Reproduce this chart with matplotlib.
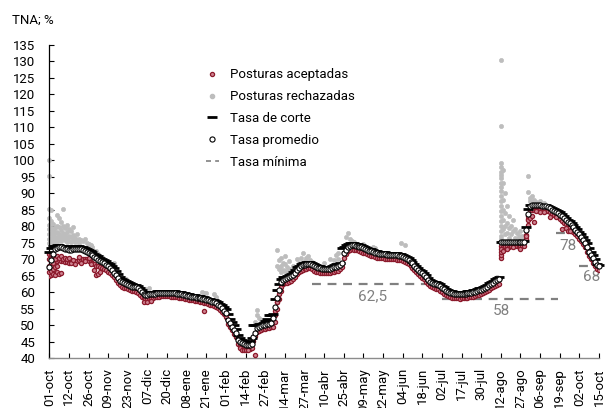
import matplotlib
matplotlib.use("Agg")
import matplotlib.pyplot as plt
from matplotlib.lines import Line2D
import numpy as np

plt.rcParams['font.family'] = ['Roboto', 'DejaVu Sans']

# ---------------- data ----------------
tick_labels = ["01-oct", "12-oct", "26-oct", "09-nov", "23-nov", "07-dic", "20-dic",
               "08-ene", "21-ene", "01-feb", "14-feb", "27-feb", "14-mar", "27-mar",
               "10-abr", "25-abr", "09-may", "22-may", "04-jun", "18-jun", "02-jul",
               "17-jul", "30-jul", "12-ago", "27-ago", "06-sep", "19-sep", "02-oct", "15-oct"]

tasa_promedio = [
    67.5, 69.8, 71.6, 73.1, 73.5, 73.8, 73.6, 73.4, 73.2, 73.0,
    72.8, 72.9, 73.0, 73.1, 73.2, 73.1, 73.1, 72.8, 72.6, 72.3,
    72.0, 71.6, 71.2, 70.8, 70.3, 69.8, 69.5, 69.1, 68.8, 68.3,
    67.8, 67.3, 66.6, 65.9, 65.2, 64.3, 63.4, 63.0, 62.7, 62.5,
    62.2, 61.9, 61.7, 61.5, 61.5, 61.2, 60.6, 60.0, 59.5, 59.3,
    59.3, 59.4, 59.5, 59.5, 59.6, 59.7, 59.8, 59.9, 59.9, 59.9,
    59.9, 59.9, 59.8, 59.8, 59.7, 59.6, 59.5, 59.4, 59.3, 59.2,
    59.0, 58.9, 58.7, 58.6, 58.5, 58.4, 58.3, 58.2, 58.1, 57.9,
    57.7, 57.5, 57.3, 57.1, 56.9, 56.7, 56.2, 55.7, 55.2, 54.4,
    53.6, 51.6, 50.6, 49.6, 48.6, 47.6, 45.5, 45.0, 44.5, 44.2,
    44.0, 44.0, 44.1, 44.3, 46.5, 47.8, 49.1, 49.5, 49.8, 50.0,
    50.1, 50.3, 50.5, 50.6, 52.1, 55.6, 58.2, 60.7, 63.0, 63.7,
    64.0, 64.2, 64.5, 64.8, 65.2, 65.8, 66.8, 67.3, 67.8, 68.1,
    68.3, 68.4, 68.5, 68.5, 68.2, 67.8, 67.5, 67.3, 67.2, 67.1,
    67.0, 67.0, 67.0, 67.0, 67.3, 67.5, 67.7, 67.8, 68.3, 68.8,
    71.8, 72.8, 73.8, 74.1, 74.3, 74.2, 74.1, 74.0, 73.8, 73.6,
    73.3, 73.1, 72.8, 72.6, 72.4, 72.2, 72.0, 71.8, 71.7, 71.6,
    71.6, 71.5, 71.4, 71.4, 71.3, 71.3, 71.3, 71.2, 71.1, 71.0,
    70.8, 70.5, 70.2, 69.8, 69.3, 68.7, 68.0, 67.3, 66.8, 66.2,
    65.7, 65.2, 64.5, 63.8, 63.2, 62.9, 62.6, 62.4, 62.2, 61.8,
    61.4, 60.9, 60.5, 60.2, 59.9, 59.7, 59.6, 59.5, 59.5, 59.4,
    59.5, 59.5, 59.6, 59.7, 59.8, 59.9, 60.0, 60.2, 60.4, 60.6,
    60.7, 61.0, 61.4, 61.7, 62.1, 62.5, 62.9, 63.3, 63.6, 63.9,
    75.2, 75.1, 75.2, 75.2, 75.1, 75.2, 75.2, 75.2, 75.3, 75.2,
    75.2, 75.3, 75.3, 78.7, 83.6, 86.2, 86.3, 86.3, 86.3, 86.3,
    86.3, 86.2, 86.2, 86.0, 85.8, 85.5, 85.0, 84.7, 84.3, 84.0,
    83.5, 83.0, 82.4, 81.9, 81.4, 80.9, 80.3, 79.6, 78.9, 78.2,
    77.5, 76.8, 75.9, 74.9, 73.6, 72.3, 71.3, 70.3, 69.3, 68.3, 68.0]

tasa_corte = [
    72.2, 73.5, 74.0, 74.1, 74.2, 74.2, 74.1, 74.0, 73.9, 73.8,
    73.7, 73.8, 73.9, 74.0, 74.0, 73.9, 73.8, 73.6, 73.4, 73.2,
    72.9, 72.5, 72.1, 71.7, 71.3, 70.9, 70.5, 70.1, 69.8, 69.4,
    69.0, 68.5, 67.9, 67.2, 66.5, 65.6, 64.6, 64.0, 63.6, 63.3,
    63.0, 62.7, 62.4, 62.2, 62.1, 61.9, 61.4, 60.8, 60.2, 59.9,
    59.9, 60.0, 60.1, 60.1, 60.2, 60.3, 60.4, 60.5, 60.5, 60.5,
    60.5, 60.5, 60.4, 60.4, 60.3, 60.2, 60.1, 60.0, 59.9, 59.8,
    59.6, 59.5, 59.3, 59.2, 59.1, 59.0, 58.9, 58.8, 58.7, 58.5,
    58.3, 58.1, 57.9, 57.7, 57.5, 57.3, 57.0, 56.5, 56.0, 55.4,
    54.8, 53.3, 52.0, 51.0, 50.0, 49.0, 47.2, 46.0, 45.4, 45.1,
    44.9, 44.8, 45.2, 46.0, 50.0, 50.1, 50.2, 50.3, 50.5, 50.8,
    51.2, 52.0, 53.0, 53.1, 53.3, 58.0, 60.7, 62.5, 64.0, 64.5,
    64.7, 64.9, 65.2, 65.5, 66.0, 66.8, 67.6, 68.0, 68.5, 68.8,
    69.0, 69.1, 69.2, 69.1, 68.8, 68.4, 68.1, 67.9, 67.8, 67.7,
    67.6, 67.6, 67.6, 67.7, 68.0, 68.2, 68.4, 68.6, 69.0, 73.4,
    73.6, 74.2, 74.6, 74.8, 74.9, 74.8, 74.7, 74.6, 74.4, 74.2,
    73.9, 73.7, 73.4, 73.2, 73.0, 72.8, 72.6, 72.4, 72.3, 72.2,
    72.2, 72.1, 72.0, 72.0, 71.9, 71.9, 71.9, 71.8, 71.7, 71.6,
    71.4, 71.1, 70.8, 70.4, 69.9, 69.3, 68.6, 67.9, 67.4, 66.8,
    66.3, 65.8, 65.1, 64.4, 63.8, 63.5, 63.2, 63.0, 62.8, 62.4,
    62.0, 61.5, 61.1, 60.8, 60.5, 60.3, 60.2, 60.1, 60.1, 60.0,
    60.1, 60.1, 60.2, 60.3, 60.4, 60.5, 60.6, 60.8, 61.0, 61.2,
    61.3, 61.6, 62.0, 62.3, 62.7, 63.1, 63.5, 63.9, 64.2, 64.5,
    75.3, 75.3, 75.3, 75.3, 75.3, 75.3, 75.3, 75.4, 75.4, 75.4,
    75.4, 75.5, 75.5, 79.9, 85.2, 86.4, 86.5, 86.5, 86.5, 86.5,
    86.5, 86.4, 86.4, 86.3, 86.1, 85.9, 85.5, 85.2, 84.9, 84.6,
    84.2, 83.7, 83.2, 82.6, 82.0, 81.5, 80.9, 80.3, 79.6, 79.0,
    78.2, 77.6, 76.8, 75.9, 74.8, 73.3, 72.2, 71.2, 70.0, 68.6, 68.1]

aceptadas_min = [
    65.0, 65.3, 65.6, 69.0, 69.5, 69.8, 69.6, 69.4, 69.3, 69.2,
    69.0, 69.2, 69.3, 69.5, 69.6, 69.8, 70.0, 70.2, 70.2, 70.0,
    69.6, 69.2, 68.9, 68.5, 68.0, 67.8, 67.6, 67.3, 67.0, 66.6,
    66.2, 65.8, 65.2, 64.5, 63.8, 62.9, 62.1, 61.7, 61.4, 61.2,
    60.9, 60.6, 60.4, 60.3, 60.2, 59.9, 59.3, 58.7, 58.2, 58.0,
    58.1, 58.2, 58.3, 58.4, 58.5, 58.6, 58.7, 58.8, 58.8, 58.8,
    58.8, 58.8, 58.7, 58.7, 58.6, 58.5, 58.4, 58.3, 58.2, 58.1,
    57.9, 57.8, 57.6, 57.5, 57.4, 57.3, 57.2, 57.1, 57.0, 56.8,
    56.6, 56.4, 56.2, 56.0, 55.8, 55.6, 55.1, 54.6, 54.1, 53.3,
    52.5, 50.5, 49.5, 48.5, 47.5, 46.5, 44.4, 43.8, 43.3, 43.0,
    42.8, 42.8, 42.9, 43.1, 45.3, 46.6, 47.9, 48.3, 48.6, 48.8,
    48.9, 49.1, 49.3, 49.4, 50.9, 54.3, 56.9, 59.4, 61.7, 62.4,
    62.7, 62.9, 63.2, 63.5, 63.9, 64.5, 65.5, 66.0, 66.5, 66.8,
    67.0, 67.1, 67.2, 67.2, 66.9, 66.5, 66.2, 66.0, 65.9, 65.8,
    65.7, 65.7, 65.7, 65.7, 66.0, 66.2, 66.4, 66.5, 67.0, 67.5,
    70.5, 71.5, 72.5, 72.8, 73.0, 72.9, 72.8, 72.7, 72.5, 72.3,
    72.0, 71.8, 71.5, 71.3, 71.1, 70.9, 70.7, 70.5, 70.4, 70.3,
    70.3, 70.2, 70.1, 70.1, 70.0, 70.0, 70.0, 69.9, 69.8, 69.7,
    69.5, 69.2, 68.9, 68.5, 68.0, 67.4, 66.7, 66.0, 65.5, 64.9,
    64.4, 63.9, 63.2, 62.5, 61.9, 61.6, 61.3, 61.1, 60.9, 60.5,
    60.1, 59.6, 59.2, 58.9, 58.6, 58.4, 58.3, 58.2, 58.2, 58.1,
    58.2, 58.2, 58.3, 58.4, 58.5, 58.6, 58.7, 58.9, 59.1, 59.3,
    59.4, 59.7, 60.1, 60.4, 60.8, 61.2, 61.6, 62.0, 62.3, 62.6,
    73.9, 73.8, 73.9, 73.9, 73.8, 73.9, 73.9, 73.9, 74.0, 73.9,
    73.9, 74.0, 74.0, 77.4, 82.3, 84.9, 85.0, 85.0, 85.0, 85.0,
    85.0, 84.9, 84.9, 84.7, 84.5, 84.2, 83.7, 83.4, 83.0, 82.7,
    82.2, 81.7, 81.1, 80.6, 80.1, 79.6, 79.0, 78.3, 77.6, 76.9,
    76.2, 75.5, 74.6, 73.6, 72.3, 71.0, 70.0, 69.0, 68.0, 67.0, 66.7]

# additional accepted bids (day index, rate)
acep_extra_dia = [0, 0, 0, 0, 1, 1, 1, 1, 2, 2, 2, 2, 3, 3, 3, 4, 4, 4, 5, 5, 6, 6, 7, 8,
                  9, 10, 11, 12, 13, 15, 16, 18, 20, 21, 23, 24, 25, 26, 48, 50, 52, 79,
                  97, 98, 99, 100, 101, 105, 114, 115, 115, 116, 116, 117, 118,
                  230, 230, 230, 230, 231, 233, 236, 240, 243, 243, 244, 244, 244, 245,
                  246, 247, 248, 250, 252, 255, 258, 261, 263, 264, 265]
acep_extra_tasa = [66.0, 68.0, 70.0, 71.5, 66.5, 68.0, 70.5, 71.5, 65.5, 67.0, 69.0, 71.0,
                   65.2, 67.5, 70.0, 66.0, 68.0, 71.0, 65.5, 70.5, 65.8, 71.0, 70.0, 70.5,
                   70.2, 70.3, 68.8, 69.7, 68.5, 70.6, 69.0, 69.4, 70.5, 68.5, 66.6, 65.2,
                   65.4, 66.0, 57.1, 57.0, 57.3, 54.3,
                   43.0, 42.5, 42.6, 42.5, 42.4, 41.0, 49.5, 51.0, 53.0, 55.0, 57.0, 58.0, 60.5,
                   70.3, 71.3, 72.3, 73.0, 72.5, 73.2, 73.6, 73.0, 76.0, 77.0, 80.5, 81.8,
                   83.0, 82.5, 83.2, 81.4, 84.6, 84.4, 84.3, 82.9, 82.7, 79.1, 79.5, 78.5, 78.4]

# rejected bids (day index, rate)
rech_dia = [0, 0, 0, 0, 0, 0, 0, 0, 0, 1, 1, 1, 1, 1, 1, 2, 2, 2, 2, 3, 3, 3, 3,
            4, 4, 4, 4, 4, 5, 5, 5, 5, 6, 6, 6, 6, 7, 7, 7, 7, 8, 8, 8, 9, 9, 9, 9,
            10, 10, 10, 11, 11, 11, 12, 12, 12, 13, 13, 14, 14, 15, 15, 16, 17, 18,
            19, 20, 21, 22, 24, 25, 27, 33, 38, 39, 44, 47, 49, 51, 78, 79, 80, 84, 85,
            105, 106, 106, 107, 108,
            116, 116, 117, 117, 118, 118, 118, 119, 119, 120, 120, 120, 121, 121, 122,
            122, 123, 124, 124, 126, 127, 128, 129, 130, 131, 132, 133, 134,
            140, 143, 145, 146, 147, 147, 151, 152, 153, 154, 155, 160, 165, 166, 179, 181,
            228,
            230, 230, 230, 230, 230, 230, 230, 230, 230, 230, 230, 230, 230, 230, 230,
            230, 230, 230, 230, 230,
            231, 231, 231, 231, 231, 231, 232, 232, 232, 232, 233, 233, 233, 234, 234,
            234, 235, 235, 236, 236, 237, 237, 238, 238, 239, 240, 240, 241, 242,
            244, 244, 245, 245, 246, 246, 247, 248, 249, 250, 252]
rech_tasa = [100.1, 95.2, 85.3, 82.5, 80.5, 79.0, 77.5, 76.0, 75.0, 85.0, 81.5, 79.5,
             78.0, 76.5, 75.2, 80.8, 78.6, 77.2, 75.6, 79.3, 77.8, 76.3, 75.1,
             83.3, 80.0, 78.2, 76.7, 75.3, 82.4, 79.6, 77.5, 76.0, 81.3, 78.9, 77.0, 75.5,
             85.1, 80.2, 78.0, 76.3, 79.5, 77.4, 75.8, 80.3, 78.2, 76.4, 75.2,
             79.0, 77.0, 75.6, 78.5, 76.6, 75.3, 79.8, 77.2, 75.7, 76.5, 75.2, 77.5, 75.9,
             76.2, 75.0, 75.8, 75.5, 76.0, 75.0, 74.6, 74.2, 73.6, 72.5, 71.5, 70.8, 69.0,
             64.3, 64.0, 62.2, 61.3, 61.0, 61.2, 60.0, 59.8, 59.9, 59.6, 58.6,
             51.0, 54.6, 53.0, 52.2, 51.5,
             72.8, 68.0, 69.8, 67.0, 70.5, 68.0, 66.0, 69.0, 66.8, 71.0, 68.5, 66.5, 67.5,
             65.8, 69.5, 67.0, 66.2, 68.0, 66.6, 70.0, 69.0, 70.5, 71.8, 69.5, 70.3, 71.0,
             69.8, 69.2,
             69.0, 70.2, 69.8, 71.3, 71.8, 70.0, 76.8, 78.0, 76.2, 75.5, 75.2, 74.5, 73.8,
             73.3, 74.8, 74.3,
             64.5,
             130.2, 110.4, 99.0, 98.0, 96.5, 95.5, 94.5, 93.0, 92.0, 90.5, 89.0, 87.5,
             86.0, 84.5, 83.0, 81.5, 80.0, 78.5, 77.0, 76.0,
             97.0, 93.0, 88.0, 85.0, 82.0, 79.0, 90.0, 84.0, 80.0, 77.5, 86.0, 81.0, 78.0,
             83.0, 79.5, 76.5, 80.0, 77.5, 82.0, 78.5, 79.0, 76.5, 78.0, 76.0, 77.0, 78.5,
             76.0, 77.0, 76.5,
             95.2, 90.2, 88.5, 87.5, 89.0, 87.2, 88.0, 87.3, 87.0, 87.5, 87.0]

# minimum rate segments: (start day, end day, rate, label)
minima_inicio = [134, 200, 258, 270]
minima_fin = [194, 259, 270, 281]
minima_tasa = [62.5, 58.0, 78.0, 68.0]
minima_etiqueta = ["62,5", "58", "78", "68"]
etiqueta_dia = [164.9, 230.3, 264.1, 276.1]
etiqueta_tasa = [58.8, 54.4, 73.9, 64.5]

# ---------------- plot ----------------
W, H = 605, 408
fig = plt.figure(figsize=(W / 100, H / 100), dpi=100)
ax = fig.add_axes([49.3 / W, 1 - 358.3 / H, (599 - 49.3) / W, (358.3 - 44.5) / H])

dias = np.arange(len(tasa_promedio))
red = '#8C1A2C'
red_face = '#CF8391'
gray_pts = '#BDBDBD'
dash_col = '#808080'

for s, e, t in zip(minima_inicio, minima_fin, minima_tasa):
    ax.plot([s, e], [t, t], color=dash_col, lw=1.6, ls=(0, (4, 3)), zorder=1)
for lab, xd, yd in zip(minima_etiqueta, etiqueta_dia, etiqueta_tasa):
    ax.text(xd, yd, lab, color=dash_col, fontsize=11, ha='center', va='center', zorder=1)

ax.plot(rech_dia, rech_tasa, ls='none', marker='o', ms=3.0, mfc=gray_pts, mec=gray_pts,
        mew=0.5, zorder=2, clip_on=False)
ax.plot(dias, aceptadas_min, ls='none', marker='o', ms=3.0, mfc=red_face, mec=red,
        mew=0.9, zorder=3)
ax.plot(acep_extra_dia, acep_extra_tasa, ls='none', marker='o', ms=3.0, mfc=red_face,
        mec=red, mew=0.9, zorder=3, clip_on=False)
ax.plot(dias, tasa_corte, ls='none', marker='_', ms=7.5, mew=2.0, color='black', zorder=4,
        clip_on=False)
ax.plot(dias, tasa_promedio, ls='none', marker='o', ms=3.7, mfc='white', mec='black',
        mew=0.8, zorder=5, clip_on=False)

ax.set_xlim(0, 280)
ax.set_ylim(40, 135)
ax.set_yticks(np.arange(40, 136, 5))
ax.set_xticks(np.arange(0, 281, 10))
ax.set_xticklabels(tick_labels, rotation=90, fontsize=9.5)
ax.tick_params(axis='y', direction='in', length=3.5, width=0.8, pad=10, labelsize=9.5,
               colors='black')
ax.tick_params(axis='x', direction='in', length=3.5, width=0.8, pad=7, labelsize=9.5,
               colors='black')
for side in ['top', 'right']:
    ax.spines[side].set_visible(False)
ax.spines['left'].set_color('black')
ax.spines['left'].set_linewidth(0.9)
ax.spines['bottom'].set_color('#8C8C8C')
ax.spines['bottom'].set_linewidth(1.0)

fig.text(12 / W, 1 - 20 / H, "TNA; %", fontsize=9.5, ha='left', va='center')

handles = [
    Line2D([], [], ls='none', marker='o', ms=3.0, mfc=red_face, mec=red, mew=0.9),
    Line2D([], [], ls='none', marker='o', ms=3.0, mfc=gray_pts, mec=gray_pts),
    Line2D([], [], ls='none', marker='_', ms=7.5, mew=2.0, color='black'),
    Line2D([], [], ls='none', marker='o', ms=3.7, mfc='white', mec='black', mew=0.8),
    Line2D([], [], color=dash_col, lw=1.2, ls=(0, (3, 2.5))),
]
labels = ["Posturas aceptadas", "Posturas rechazadas", "Tasa de corte", "Tasa promedio",
          "Tasa mínima"]
ax.legend(handles, labels, loc='upper left', bbox_to_anchor=(0.28, 0.933), frameon=False,
          fontsize=9.5, handlelength=1.0, handletextpad=0.8, labelspacing=0.68,
          borderpad=0.2, borderaxespad=0)

fig.savefig("out.png", dpi=100)
